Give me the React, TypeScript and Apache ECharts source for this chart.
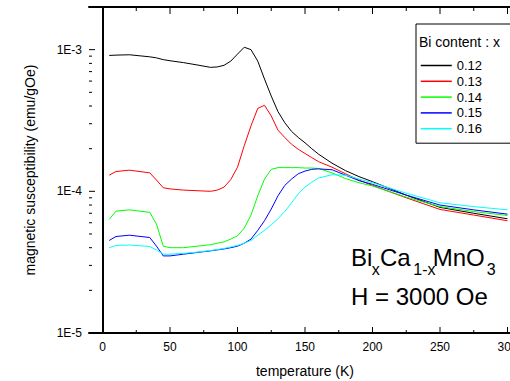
import React, { useEffect, useRef } from "react";
import * as echarts from "echarts";

const FONT = "'Liberation Sans', Arial, sans-serif";

const temps = [5, 10, 20, 35, 40, 45, 50, 60, 70, 80, 85, 90, 95, 100, 105, 110, 115, 120, 125, 130, 135, 140, 145, 150, 155, 160, 170, 180, 190, 200, 225, 250, 275, 300];

const seriesNames = ["0.12", "0.13", "0.14", "0.15", "0.16"];
const seriesColors = ["#000000", "#ff0000", "#00ff00", "#0000ff", "#00ffff"];

const chi012 = [9.1e-4, 9.15e-4, 9.2e-4, 8.9e-4, 8.75e-4, 8.5e-4, 8.35e-4, 8.1e-4, 7.8e-4, 7.5e-4, 7.55e-4, 7.75e-4, 8.3e-4, 9.3e-4, 1.04e-3, 1.0e-3, 8.3e-4, 6.2e-4, 4.7e-4, 3.65e-4, 3.05e-4, 2.65e-4, 2.4e-4, 2.2e-4, 2.0e-4, 1.83e-4, 1.58e-4, 1.4e-4, 1.27e-4, 1.17e-4, 9.4e-5, 7.7e-5, 7.0e-5, 6.4e-5];
const chi013 = [1.3e-4, 1.38e-4, 1.41e-4, 1.35e-4, 1.2e-4, 1.06e-4, 1.04e-4, 1.02e-4, 1.01e-4, 1.0e-4, 1.02e-4, 1.07e-4, 1.21e-4, 1.48e-4, 2.1e-4, 2.9e-4, 3.85e-4, 4.05e-4, 3.4e-4, 2.7e-4, 2.4e-4, 2.15e-4, 1.98e-4, 1.85e-4, 1.73e-4, 1.62e-4, 1.48e-4, 1.33e-4, 1.2e-4, 1.1e-4, 9.0e-5, 7.45e-5, 6.8e-5, 6.2e-5];
const chi014 = [6.35e-5, 7.25e-5, 7.4e-5, 7.1e-5, 5.86e-5, 4.1e-5, 4.0e-5, 4.0e-5, 4.1e-5, 4.2e-5, 4.3e-5, 4.4e-5, 4.6e-5, 4.85e-5, 5.5e-5, 6.8e-5, 9.3e-5, 1.22e-4, 1.43e-4, 1.47e-4, 1.47e-4, 1.47e-4, 1.47e-4, 1.46e-4, 1.46e-4, 1.45e-4, 1.35e-4, 1.23e-4, 1.15e-4, 1.09e-4, 9.1e-5, 7.8e-5, 7.2e-5, 6.75e-5];
const chi015 = [4.5e-5, 4.8e-5, 4.9e-5, 4.72e-5, 4.1e-5, 3.5e-5, 3.5e-5, 3.6e-5, 3.7e-5, 3.8e-5, 3.86e-5, 3.92e-5, 4.0e-5, 4.1e-5, 4.3e-5, 4.6e-5, 5.3e-5, 6.2e-5, 7.5e-5, 9.3e-5, 1.1e-4, 1.22e-4, 1.33e-4, 1.39e-4, 1.43e-4, 1.44e-4, 1.42e-4, 1.3e-4, 1.19e-4, 1.12e-4, 9.4e-5, 8.0e-5, 7.4e-5, 6.9e-5];
const chi016 = [4.0e-5, 4.15e-5, 4.18e-5, 4.08e-5, 3.85e-5, 3.6e-5, 3.6e-5, 3.65e-5, 3.72e-5, 3.82e-5, 3.88e-5, 3.95e-5, 4.05e-5, 4.15e-5, 4.3e-5, 4.5e-5, 4.9e-5, 5.3e-5, 5.8e-5, 6.4e-5, 7.2e-5, 8.3e-5, 9.6e-5, 1.07e-4, 1.16e-4, 1.24e-4, 1.31e-4, 1.3e-4, 1.22e-4, 1.15e-4, 9.7e-5, 8.3e-5, 7.8e-5, 7.4e-5];

const seriesValues = [chi012, chi013, chi014, chi015, chi016];

const xMajorTicks = [0, 50, 100, 150, 200, 250, 300];
const xMinorTicks = [25, 75, 125, 175, 225, 275];
const yMajorTicks = [1e-5, 1e-4, 1e-3];
const yMinorTicks = [2e-5, 3e-5, 4e-5, 5e-5, 6e-5, 7e-5, 8e-5, 9e-5, 2e-4, 3e-4, 4e-4, 5e-4, 6e-4, 7e-4, 8e-4, 9e-4];

const xMin = -10;
const xMax = 310;
const yMin = 1e-5;
const yMax = 2e-3;

function txt(text: string, x: number, y: number, size: number) {
  return {
    type: "text",
    x,
    y,
    z: 100,
    style: { text, fill: "#000", font: `${size}px ${FONT}`, verticalAlign: "middle", align: "left" },
  };
}

// tick specs: [x, y, kind, length]; kind 0 = bottom, 1 = top, 2 = left
function buildTicks() {
  const out: number[][] = [];
  xMajorTicks.forEach((v) => { out.push([v, yMin, 0, 6]); out.push([v, yMax, 1, 7]); });
  xMinorTicks.forEach((v) => { out.push([v, yMin, 0, 3]); out.push([v, yMax, 1, 4]); });
  yMajorTicks.forEach((v) => out.push([xMin, v, 2, 6]));
  yMinorTicks.forEach((v) => out.push([xMin, v, 2, 3]));
  return out;
}

export default function App() {
  const ref = useRef<HTMLDivElement>(null);
  useEffect(() => {
    if (!ref.current) return;
    const chart = echarts.init(ref.current, null, { renderer: "svg" });
    const axisLine = { show: true, lineStyle: { color: "#000", width: 2 } };
    chart.setOption({
      animation: false,
      backgroundColor: "#fff",
      grid: { left: 89, top: 7, width: 432, bottom: 48, containLabel: false, outerBoundsMode: "none" },
      xAxis: [
        {
          type: "value",
          min: xMin,
          max: xMax,
          interval: 10,
          position: "bottom",
          axisLine,
          splitLine: { show: false },
          axisTick: { show: false },
          axisLabel: {
            fontSize: 12,
            margin: 8,
            color: "#000",
            fontFamily: FONT,
            hideOverlap: false,
            formatter: (v: number) => (xMajorTicks.indexOf(Math.round(v)) >= 0 ? String(Math.round(v)) : ""),
          },
          name: "temperature (K)",
          nameLocation: "middle",
          nameGap: 31,
          nameTextStyle: { fontSize: 14, color: "#000", fontFamily: FONT },
        },
        {
          type: "value",
          min: xMin,
          max: xMax,
          position: "top",
          axisLine,
          splitLine: { show: false },
          axisTick: { show: false },
          axisLabel: { show: false },
        },
      ],
      yAxis: [
        {
          type: "log",
          logBase: 10,
          min: yMin,
          max: yMax,
          position: "left",
          axisLine,
          splitLine: { show: false },
          axisTick: { show: false },
          axisLabel: {
            fontSize: 12,
            margin: 7,
            color: "#000",
            fontFamily: FONT,
            showMinLabel: true,
            showMaxLabel: false,
            formatter: (v: number) => {
              const e = Math.log10(v);
              return Math.abs(e - Math.round(e)) < 1e-6 ? "1E" + Math.round(e) : "";
            },
          },
          name: "magnetic susceptibility (emu/gOe)",
          nameLocation: "middle",
          nameGap: 52,
          nameTextStyle: { fontSize: 14, color: "#000", fontFamily: FONT },
        },
      ],
      legend: {
        orient: "vertical",
        left: 416,
        top: 24,
        data: seriesNames,
        borderColor: "#000",
        borderWidth: 1,
        borderRadius: 0,
        padding: [35, 29, 8, 4],
        itemWidth: 31,
        itemHeight: 14,
        itemGap: 2.8,
        itemStyle: { opacity: 0 },
        lineStyle: { width: 1.5 },
        textStyle: { fontSize: 13, color: "#000", fontFamily: FONT },
      },
      graphic: [
        txt("Bi content : x", 419, 42, 14),
        txt("Bi", 351, 257.7, 24),
        txt("x", 371.7, 269.5, 16),
        txt("Ca", 380, 257.7, 24),
        txt("1-x", 413.3, 269.5, 16),
        txt("MnO", 432.7, 257.7, 24),
        txt("3", 486.7, 269.5, 16),
        txt("H = 3000 Oe", 351, 296, 24),
      ],
      series: [
        ...seriesNames.map((name, i) => ({
          name,
          type: "line",
          xAxisIndex: 0,
          yAxisIndex: 0,
          symbol: "none",
          smooth: false,
          color: seriesColors[i],
          lineStyle: { color: seriesColors[i], width: 1 },
          data: temps.map((t, j) => [t, seriesValues[i][j]]),
        })),
        {
          name: "ticks",
          type: "custom",
          xAxisIndex: 0,
          yAxisIndex: 0,
          silent: true,
          clip: false,
          z: 10,
          data: buildTicks(),
          renderItem: (_params: any, api: any) => {
            const p = api.coord([api.value(0), api.value(1)]);
            const kind = api.value(2);
            const len = api.value(3);
            let x2 = p[0];
            let y2 = p[1];
            if (kind === 0) y2 = p[1] - len;
            else if (kind === 1) y2 = p[1] + len;
            else x2 = p[0] + len;
            return {
              type: "line",
              shape: { x1: p[0], y1: p[1], x2, y2 },
              style: { stroke: "#000", lineWidth: 1 },
            };
          },
        },
      ],
    });
    return () => chart.dispose();
  }, []);
  return <div ref={ref} style={{ position: "fixed", left: 0, top: 0, width: 510, height: 381 }} />;
}
